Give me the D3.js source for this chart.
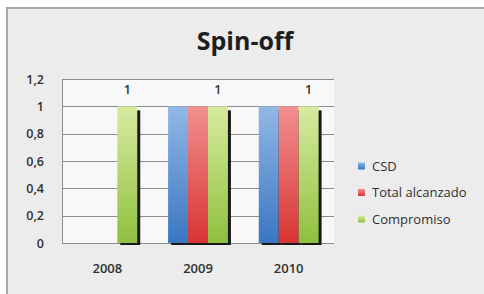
<!DOCTYPE html>
<html><head><meta charset="utf-8">
<script src="https://cdn.jsdelivr.net/npm/d3@7"></script>
<style>html,body{margin:0;padding:0;background:#fff;}svg{display:block;}</style>
</head><body>
<script>
const categories = ["2008", "2009", "2010"];
const seriesNames = ["CSD", "Total alcanzado", "Compromiso"];
const csd = [0, 1, 1];
const totalAlcanzado = [0, 1, 1];
const compromiso = [1, 1, 1];
const yTicks = [0, 0.2, 0.4, 0.6, 0.8, 1, 1.2];
const yTickLabels = ["0", "0,2", "0,4", "0,6", "0,8", "1", "1,2"];
const title = "Spin-off";

const W = 484, H = 294;
const font = "'Open Sans', 'Liberation Sans', sans-serif";
const txt = "#303030";
const svg = d3.select("body").append("svg").attr("width", W).attr("height", H);
const defs = svg.append("defs");
const grads = [["#92b8e6", "#3a76c2"], ["#f29090", "#d93434"], ["#d8eba0", "#8fc03e"]];
grads.forEach((g, i) => {
  const lg = defs.append("linearGradient").attr("id", "g" + i).attr("x1", 0).attr("y1", 0).attr("x2", 0).attr("y2", 1);
  lg.append("stop").attr("offset", "0%").attr("stop-color", g[0]);
  lg.append("stop").attr("offset", "100%").attr("stop-color", g[1]);
});

// chart background frame
svg.append("rect").attr("x", 0).attr("y", 0).attr("width", W).attr("height", H).attr("fill", "#ffffff");
svg.append("rect").attr("x", 7).attr("y", 8).attr("width", W + 10).attr("height", H + 10)
  .attr("fill", "#ececec").attr("stroke", "#a8a8a8").attr("stroke-width", 2);

const plot = {left: 62, right: 334, top: 79, bottom: 243};
const x = d3.scaleBand().domain(categories).range([plot.left, plot.right]).paddingInner(0.34).paddingOuter(0.17);
const xs = d3.scaleBand().domain(seriesNames).range([0, x.bandwidth()]);
const y = d3.scaleLinear().domain([0, 1.2]).range([plot.bottom, plot.top]);

svg.append("rect").attr("x", plot.left).attr("y", plot.top).attr("width", plot.right - plot.left).attr("height", plot.bottom - plot.top).attr("fill", "#f8f8f8");

// gridlines
svg.append("g").selectAll("line").data(yTicks).join("line")
  .attr("x1", plot.left).attr("x2", plot.right)
  .attr("y1", d => Math.round(y(d)) + 0.5).attr("y2", d => Math.round(y(d)) + 0.5)
  .attr("stroke", "#8c8c8c").attr("stroke-width", 1);
svg.append("line").attr("x1", plot.left + 0.5).attr("x2", plot.left + 0.5).attr("y1", plot.top).attr("y2", plot.bottom)
  .attr("stroke", "#8c8c8c");

// y axis labels
const yAxis = d3.axisLeft(y).tickValues(yTicks).tickFormat((d, i) => yTickLabels[i]).tickSize(0).tickPadding(18);
const ya = svg.append("g").attr("transform", `translate(${plot.left},0)`).call(yAxis);
ya.select(".domain").remove();
ya.selectAll("text").attr("font-family", font).attr("font-size", 12.5).attr("font-weight", 600).attr("fill", txt);

// x axis labels
const xAxis = d3.axisBottom(x).tickSize(0).tickPadding(21);
const xa = svg.append("g").attr("transform", `translate(0,${plot.bottom})`).call(xAxis);
xa.select(".domain").remove();
xa.selectAll("text").attr("font-family", font).attr("font-size", 13).attr("font-weight", 600).attr("fill", txt);

const series = [csd, totalAlcanzado, compromiso];
const data = [];
categories.forEach((c, ci) => series.forEach((s, si) => {
  if (s[ci] > 0) data.push({cat: c, name: seriesNames[si], si, v: s[ci]});
}));

// shadows
svg.append("g").selectAll("rect").data(data).join("rect")
  .attr("x", d => x(d.cat) + xs(d.name) + 3)
  .attr("y", d => y(d.v) + 4)
  .attr("width", xs.bandwidth())
  .attr("height", d => y(0) - y(d.v) - 2)
  .attr("fill", "#1a1a1a");
// bars
svg.append("g").selectAll("rect").data(data).join("rect")
  .attr("x", d => x(d.cat) + xs(d.name))
  .attr("y", d => y(d.v))
  .attr("width", xs.bandwidth())
  .attr("height", d => y(0) - y(d.v))
  .attr("fill", d => `url(#g${d.si})`);

// data labels on Compromiso
svg.append("g").selectAll("text").data(categories).join("text")
  .attr("x", (c) => x(c) + xs("Compromiso") + xs.bandwidth() / 2)
  .attr("y", (c, i) => y(compromiso[i]) - 12)
  .attr("text-anchor", "middle")
  .attr("font-family", font).attr("font-size", 12.5).attr("font-weight", 600).attr("fill", txt)
  .text((c, i) => String(compromiso[i]));

// title
svg.append("text").attr("x", 245).attr("y", 50).attr("text-anchor", "middle")
  .attr("font-family", font).attr("font-weight", "bold").attr("font-size", 25).attr("fill", "#1e1e1e")
  .text(title);

// legend
const leg = svg.append("g").selectAll("g").data(seriesNames).join("g")
  .attr("transform", (d, i) => `translate(358,${166 + i * 26.5})`);
leg.append("rect").attr("x", 0).attr("y", -3.5).attr("width", 7).attr("height", 7).attr("fill", (d, i) => `url(#g${i})`);
leg.append("text").attr("x", 14).attr("y", 0).attr("dy", "0.35em")
  .attr("font-family", font).attr("font-size", 13).attr("fill", txt).text(d => d);
</script>
</body></html>
